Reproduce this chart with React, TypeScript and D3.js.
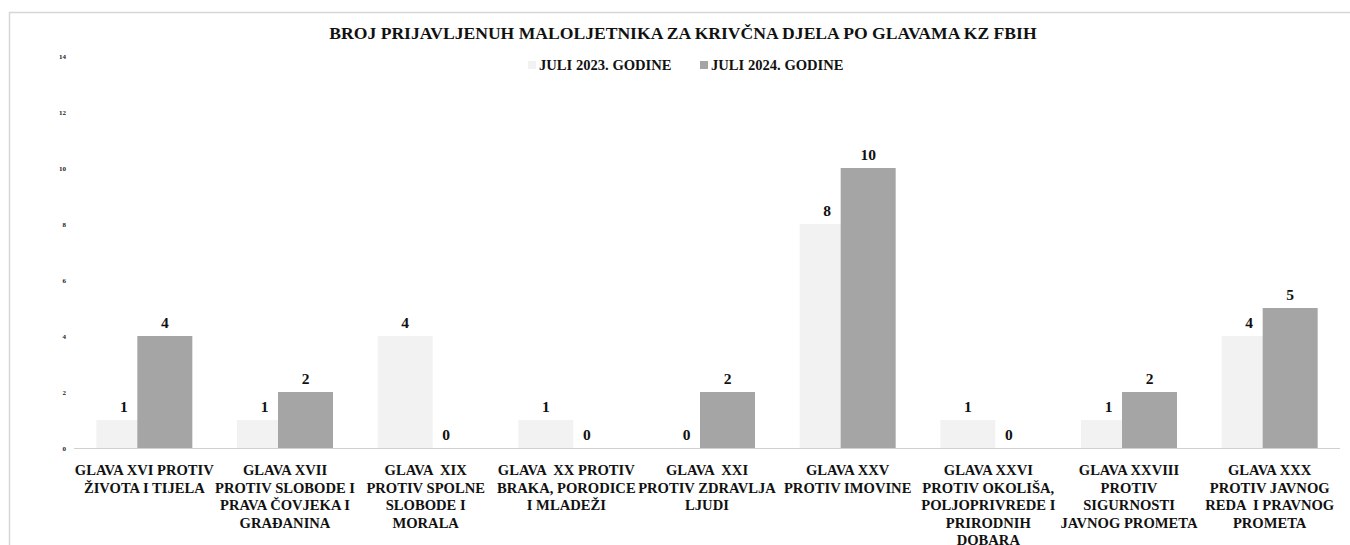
import React from 'react';
import * as d3 from 'd3';

const categories: string[][] = [
  ['GLAVA XVI PROTIV', 'ŽIVOTA I TIJELA'],
  ['GLAVA XVII', 'PROTIV SLOBODE I', 'PRAVA ČOVJEKA I', 'GRAĐANINA'],
  ['GLAVA  XIX', 'PROTIV SPOLNE', 'SLOBODE I', 'MORALA'],
  ['GLAVA  XX PROTIV', 'BRAKA, PORODICE', 'I MLADEŽI'],
  ['GLAVA  XXI', 'PROTIV ZDRAVLJA', 'LJUDI'],
  ['GLAVA XXV', 'PROTIV IMOVINE'],
  ['GLAVA XXVI', 'PROTIV OKOLIŠA,', 'POLJOPRIVREDE I', 'PRIRODNIH', 'DOBARA'],
  ['GLAVA XXVIII', 'PROTIV', 'SIGURNOSTI', 'JAVNOG PROMETA'],
  ['GLAVA XXX', 'PROTIV JAVNOG', 'REDA  I PRAVNOG', 'PROMETA'],
];
const july2023 = [1, 1, 4, 1, 0, 8, 1, 1, 4];
const july2024 = [4, 2, 0, 0, 2, 10, 0, 2, 5];
const seriesNames = ['JULI 2023. GODINE', 'JULI 2024. GODINE'];
const yTicks = [0, 2, 4, 6, 8, 10, 12, 14];
const title = 'BROJ PRIJAVLJENUH MALOLJETNIKA ZA KRIVČNA DJELA PO GLAVAMA KZ FBIH';

const W = 1350;
const H = 545;
const FONT = '"Liberation Serif", serif';
const colors = ['#f2f2f2', '#a5a5a5'];

const App: React.FC = () => {
  const left = 74;
  const right = 1340;
  const x = d3.scaleBand<number>().domain(d3.range(categories.length)).range([left, right]).padding(0);
  const y = d3.scaleLinear().domain([0, 14]).range([448, 56]);
  const barW = 55;
  const overlap = 14;
  const span = barW * 2 - overlap;
  const series = [july2023, july2024];
  const legendX = [528, 700];

  return (
    <svg width={W} height={H} style={{ position: 'absolute', left: 0, top: 0, background: '#fff' }} fontFamily={FONT}>
      <rect x={9.5} y={12.5} width={1400} height={600} fill="#fff" stroke="#d6d6d6" strokeWidth={1.5} />
      <text x={683} y={39} textAnchor="middle" fontWeight="bold" fontSize={17.6} fill="#111">{title}</text>

      {/* legend */}
      {seriesNames.map((name, i) => (
        <g key={name}>
          <rect x={legendX[i]} y={61} width={8} height={8} fill={colors[i]} />
          <text x={legendX[i] + 11} y={70} fontSize={14.6} fontWeight="bold" fill="#111">{name}</text>
        </g>
      ))}

      {/* y ticks */}
      {yTicks.map((t) => (
        <text key={t} x={66} y={y(t) + 2.5} textAnchor="end" fontSize={7} fontWeight="bold" fill="#222">{t}</text>
      ))}

      {/* bars */}
      {series.map((vals, s) =>
        vals.map((v, i) => {
          const cx = (x(i) as number) + x.bandwidth() / 2;
          const bx = cx - span / 2 + s * (barW - overlap);
          return <rect key={`${s}-${i}`} x={bx} y={y(v)} width={barW} height={y(0) - y(v)} fill={colors[s]} />;
        })
      )}

      <line x1={left} x2={right} y1={y(0) + 0.5} y2={y(0) + 0.5} stroke="#d0d0d0" strokeWidth={1} />

      {/* value labels */}
      {series.map((vals, s) =>
        vals.map((v, i) => {
          const cx = (x(i) as number) + x.bandwidth() / 2;
          const bx = cx - span / 2 + s * (barW - overlap);
          return (
            <text key={`l${s}-${i}`} x={bx + barW / 2} y={y(v) - 8} textAnchor="middle" fontSize={15.5} fontWeight="bold" fill="#111">{v}</text>
          );
        })
      )}

      {/* category labels */}
      {categories.map((lines, i) => {
        const cx = (x(i) as number) + x.bandwidth() / 2;
        return (
          <text key={i} textAnchor="middle" fontSize={14.6} fontWeight="bold" fill="#111">
            {lines.map((ln, j) => (
              <tspan key={j} x={cx} y={475 + j * 17.6} style={{ whiteSpace: 'pre' }}>{ln}</tspan>
            ))}
          </text>
        );
      })}
    </svg>
  );
};

export default App;
